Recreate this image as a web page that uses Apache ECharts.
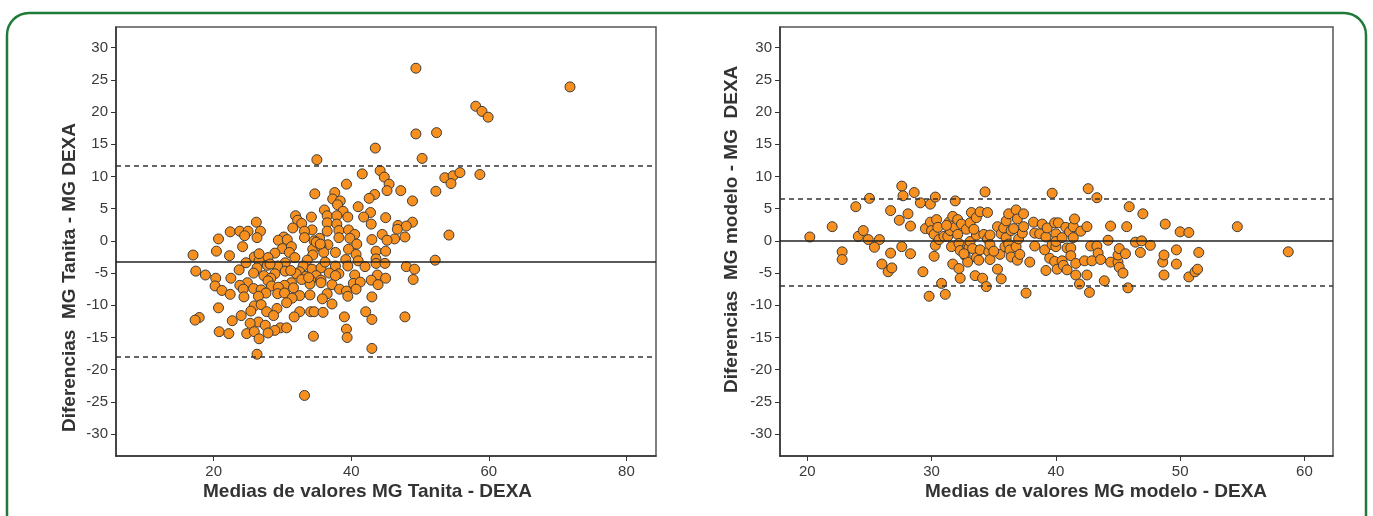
<!DOCTYPE html>
<html>
<head>
<meta charset="utf-8">
<script src="https://cdn.jsdelivr.net/npm/echarts@6/dist/echarts.min.js"></script>
<style>
  html, body { margin: 0; padding: 0; background: #fff; }
  #chart { width: 1373px; height: 516px; }
</style>
</head>
<body>
<div id="chart"></div>
<script>
// Bland-Altman: Tanita vs DEXA (media, diferencia)
const tanitaMedias = [49.4, 71.8, 58.1, 59.0, 59.9, 49.4, 52.4, 43.5, 35.0, 50.3, 44.2, 44.8, 41.6, 53.6, 54.8, 55.8, 58.7, 54.5, 45.5, 39.3,
  45.2, 47.2, 52.3, 34.7, 37.6, 43.4, 42.6, 37.3, 38.4, 48.9, 38.0, 41.0, 36.1, 38.8, 42.8, 31.9, 34.2, 36.5, 37.9, 39.5,
  41.8, 45.0, 32.2, 32.8, 36.5, 37.9, 42.9, 26.2, 48.9, 46.8, 48.0, 31.5, 46.7, 36.5, 38.2, 39.6, 34.3, 33.2, 22.4, 23.8,
  25.0, 26.8, 24.5, 26.3, 20.7, 40.5, 44.5, 47.8, 54.2, 30.2, 33.2, 35.4, 38.2, 39.8, 43.0, 46.3, 45.2, 29.4, 30.7, 34.6,
  36.6, 40.8, 24.2, 30.0, 31.3, 34.4, 35.6, 39.6, 20.4, 28.9, 31.0, 34.4, 36.0, 37.7, 40.7, 43.6, 45.0, 17.0, 22.3, 25.9,
  27.9, 31.8, 33.6, 39.2, 41.0, 43.6, 52.2, 24.7, 26.6, 30.4, 43.6, 44.9, 27.8, 29.3, 33.0, 37.7, 39.5, 42.0, 48.0, 26.3,
  23.7, 34.3, 17.4, 30.4, 32.5, 35.6, 49.2, 25.8, 32.0, 36.8, 38.2, 40.5, 43.8, 18.8, 27.3, 28.9, 33.4, 34.9, 37.7, 28.3,
  22.5, 20.3, 45.0, 42.9, 49.0, 32.8, 34.1, 35.6, 27.9, 24.9, 31.3, 35.6, 40.3, 41.3, 43.9, 37.2, 23.8, 30.3, 28.4, 34.0,
  20.2, 24.3, 25.8, 29.4, 31.6, 38.3, 39.3, 40.7, 21.2, 26.9, 27.6, 29.3, 30.3, 22.4, 36.5, 24.4, 26.5, 32.5, 34.0, 39.5,
  43.0, 35.8, 31.4, 30.6, 37.2, 25.9, 26.9, 20.7, 29.2, 25.4, 27.7, 34.1, 34.6, 35.9, 42.1, 32.5, 28.7, 24.0, 31.7, 39.0,
  47.8, 17.9, 17.3, 22.7, 43.0, 26.5, 25.3, 27.5, 29.7, 30.6, 39.3, 28.9, 20.8, 22.2, 24.8, 25.9, 27.9, 34.5, 39.4, 26.6,
  43.0, 26.3, 33.2, 34.9, 35.5, 31.2, 26.6, 28.2, 33.8, 36.2];
const tanitaDifs = [26.8, 23.9, 20.9, 20.1, 19.2, 16.6, 16.8, 14.4, 12.6, 12.8, 10.9, 9.9, 10.4, 9.8, 10.1, 10.6, 10.3, 8.9, 8.8, 8.8,
  7.8, 7.8, 7.7, 7.3, 7.5, 7.2, 6.6, 6.5, 6.2, 6.2, 5.6, 5.3, 4.8, 4.6, 4.4, 3.9, 3.7, 3.9, 3.9, 3.7,
  3.7, 3.6, 3.2, 2.7, 2.8, 2.6, 2.6, 2.9, 2.9, 2.4, 2.3, 2.0, 1.8, 1.5, 1.6, 1.7, 1.7, 1.5, 1.4, 1.5,
  1.5, 1.5, 0.8, 0.5, 0.3, 1.0, 1.0, 0.6, 0.9, 0.6, 0.5, 0.4, 0.5, 0.4, 0.2, 0.3, 0.1, 0.1, 0.2, 0.0,
  -0.6, -0.5, -0.9, -1.2, -0.9, -1.3, -0.9, -1.3, -1.6, -1.9, -1.8, -2.2, -1.8, -1.8, -2.1, -1.6, -1.6, -2.2, -2.3, -2.5,
  -2.6, -2.6, -3.0, -2.9, -3.1, -2.8, -3.0, -3.4, -3.1, -3.4, -3.5, -3.5, -3.8, -3.9, -3.9, -3.9, -3.9, -4.0, -4.0, -4.2,
  -4.5, -4.4, -4.7, -4.7, -4.8, -4.2, -4.4, -5.0, -5.1, -5.0, -5.1, -5.3, -5.3, -5.3, -5.4, -5.1, -5.5, -5.4, -5.4, -5.8,
  -5.8, -5.8, -5.8, -6.1, -6.0, -6.0, -6.1, -6.1, -6.2, -6.5, -6.5, -6.5, -6.6, -6.4, -6.8, -6.8, -6.9, -6.9, -7.0, -6.7,
  -7.0, -7.5, -7.4, -7.2, -7.3, -7.5, -7.8, -7.5, -7.7, -7.6, -8.1, -8.2, -8.1, -8.3, -8.2, -8.7, -8.6, -8.5, -8.4, -8.6,
  -8.7, -9.0, -8.9, -9.6, -9.8, -10.1, -9.9, -10.4, -10.5, -10.9, -11.0, -11.0, -11.0, -11.1, -11.0, -11.0, -11.6, -11.6, -11.8, -11.8,
  -11.8, -11.9, -12.3, -12.4, -12.2, -12.6, -12.8, -13.1, -13.5, -13.5, -13.7, -13.9, -14.1, -14.4, -14.4, -14.1, -14.3, -14.8, -15.0, -15.2,
  -16.7, -17.6, -24.0, -0.2, -0.5, -4.6, -2.0, -3.6, -5.7, -3.3];
const tanitaLimites = [11.6, -3.3, -18.0];

// Bland-Altman: modelo vs DEXA
const modeloMedias = [20.2, 22.0, 22.8, 22.8, 23.9, 25.0, 24.1, 24.5, 24.9, 25.8, 25.4, 26.0, 26.5, 26.8, 26.7, 26.7, 27.4, 27.6, 27.7, 27.6,
  28.1, 28.3, 28.3, 28.6, 29.1, 29.3, 29.5, 29.8, 29.9, 29.9, 30.0, 30.3, 30.4, 30.2, 30.3, 30.2, 30.5, 30.6, 30.8, 31.1,
  31.0, 31.3, 31.4, 31.5, 31.7, 31.6, 31.7, 31.9, 31.9, 32.1, 32.1, 32.2, 32.3, 32.2, 32.3, 32.4, 32.7, 32.8, 32.9, 32.9,
  33.0, 33.1, 33.1, 33.2, 33.3, 33.5, 33.6, 33.6, 33.6, 33.8, 33.9, 33.9, 34.1, 34.2, 34.3, 34.4, 34.5, 34.5, 34.6, 34.7,
  34.7, 34.7, 35.3, 35.3, 35.5, 35.6, 35.6, 35.8, 35.9, 36.0, 36.0, 36.2, 36.2, 36.3, 36.4, 36.4, 36.8, 36.8, 36.9, 36.9,
  37.0, 37.1, 37.3, 37.4, 37.4, 37.6, 37.9, 38.2, 38.3, 38.3, 38.7, 38.9, 39.1, 39.2, 39.2, 39.3, 39.5, 39.7, 39.7, 39.9,
  39.9, 40.0, 40.0, 40.0, 40.1, 40.2, 40.5, 40.5, 40.6, 40.8, 40.9, 40.9, 41.1, 41.2, 41.2, 41.4, 41.4, 41.5, 41.6, 41.6,
  41.9, 42.0, 42.3, 42.5, 42.5, 42.6, 42.7, 42.8, 42.9, 43.3, 43.3, 43.4, 43.6, 43.9, 44.2, 44.4, 44.4, 45.0, 45.0, 45.1,
  45.1, 45.4, 45.6, 45.7, 45.8, 45.9, 46.4, 46.8, 46.9, 47.0, 47.6, 48.6, 48.7, 48.7, 48.8, 49.7, 49.7, 50.0, 50.7, 50.7,
  51.2, 51.4, 51.5, 54.6, 58.7, 31.2, 33.4, 35.0, 36.6, 32.6];
const modeloDifs = [0.6, 2.2, -1.7, -2.9, 5.3, 6.6, 0.7, 1.6, 0.2, 0.2, -1.0, -3.6, -4.8, -4.2, -1.9, 4.7, 3.2, 8.5, 7.0, -0.9,
  4.2, 2.3, -2.0, 7.5, 5.9, -4.8, 1.9, -8.6, 5.7, 2.9, 1.6, 6.8, 3.3, 1.0, -0.7, -2.4, 2.1, 0.2, -6.6, -8.3,
  0.7, 0.7, 2.9, 1.6, 3.8, -0.9, -3.6, 6.2, 2.1, 3.3, 1.0, -0.4, -1.5, -4.3, -5.8, 2.6, -2.3, 1.8, -0.9, -3.3,
  -1.1, 2.8, -0.1, 4.4, -1.2, -5.4, 3.6, 0.9, -2.6, -3.0, 4.5, -1.4, -5.8, 1.0, 7.6, -7.1, 4.4, 0.3, -1.7, 0.9,
  -0.6, -2.9, 2.2, -4.4, -2.1, 1.1, -5.9, 2.0, -0.9, 3.1, 0.5, 4.2, -0.5, -1.4, 1.6, -2.5, -0.9, 4.8, 3.4, -3.0,
  0.3, -2.1, 1.2, 4.2, 2.2, -8.1, -3.3, 2.9, -0.8, 1.2, 1.1, 2.6, -1.4, -4.6, 0.6, 2.0, -2.7, 7.4, -0.6, 2.8,
  -3.2, -0.9, 1.1, -0.1, -4.4, 2.8, -3.1, 0.5, -3.8, 2.1, -1.1, -4.5, 1.4, -1.1, -2.3, 0.5, 2.2, 3.4, -3.5, -5.3,
  -6.7, 1.5, -3.1, 2.2, -5.3, 8.1, -8.0, -0.8, -3.1, -0.8, 6.7, -1.9, -2.9, -6.2, 0.1, 2.3, -3.3, -3.3, -2.2, -1.2,
  -4.1, -5.0, -2.0, 2.2, -7.3, 5.3, -0.2, -1.8, 0.0, 4.2, -0.7, -3.3, -5.3, -2.2, 2.6, -3.6, -1.4, 1.4, 1.3, -5.6,
  -4.8, -4.4, -1.8, 2.2, -1.7, 2.4, 1.8, -1.6, 1.9, -2.0];
const modeloLimites = [6.6, 0, -6.9];

const yTicks = [-30, -25, -20, -15, -10, -5, 0, 5, 10, 15, 20, 25, 30];
const tanitaXTicks = [20, 40, 60, 80];
const modeloXTicks = [20, 30, 40, 50, 60];

function zip(xs, ys) {
  return xs.map((x, i) => [x, ys[i]]);
}

const labelFont = {
  color: '#3a3a3a',
  fontFamily: "'Liberation Sans Narrow', 'Arial Narrow', sans-serif",
  fontSize: 15
};

function xAxisCfg(idx, min, max, ticks) {
  return {
    gridIndex: idx, type: 'value', min: min, max: max,
    splitLine: { show: false },
    axisLine: { onZero: false, lineStyle: { color: '#333', width: 1.5 } },
    axisTick: { show: true, length: 5, customValues: ticks, lineStyle: { color: '#333' } },
    axisLabel: Object.assign({ customValues: ticks, margin: 8 }, labelFont)
  };
}

function yAxisCfg(idx) {
  return {
    gridIndex: idx, type: 'value', min: -33.4, max: 33.2,
    splitLine: { show: false },
    axisLine: { show: true, onZero: false, lineStyle: { color: '#333', width: 1.5 } },
    axisTick: { show: true, length: 5, customValues: yTicks, lineStyle: { color: '#333' } },
    axisLabel: Object.assign({ customValues: yTicks, margin: 8 }, labelFont)
  };
}

function seriesCfg(idx, data, limites) {
  return {
    type: 'scatter',
    xAxisIndex: idx, yAxisIndex: idx,
    data: data,
    symbolSize: 10,
    itemStyle: { color: '#f7901e', borderColor: '#3a3a3a', borderWidth: 1, opacity: 1 },
    markLine: {
      silent: true,
      symbol: 'none',
      label: { show: false },
      data: [
        { yAxis: limites[0], lineStyle: { type: [5, 4], color: '#333', width: 1.5 } },
        { yAxis: limites[1], lineStyle: { type: 'solid', color: '#222', width: 1.5 } },
        { yAxis: limites[2], lineStyle: { type: [5, 4], color: '#333', width: 1.5 } }
      ]
    }
  };
}

const titleStyle = {
  fill: '#333',
  fontFamily: "'Liberation Sans', Arial, sans-serif",
  fontWeight: 'bold',
  fontSize: 19
};

const option = {
  animation: false,
  grid: [
    { left: 116, top: 27, width: 540, height: 429, show: true, borderColor: '#555', borderWidth: 1.5 },
    { left: 780, top: 27, width: 553, height: 429, show: true, borderColor: '#555', borderWidth: 1.5 }
  ],
  xAxis: [
    xAxisCfg(0, 5.8, 84.3, tanitaXTicks),
    xAxisCfg(1, 17.8, 62.3, modeloXTicks)
  ],
  yAxis: [yAxisCfg(0), yAxisCfg(1)],
  series: [
    seriesCfg(0, zip(tanitaMedias, tanitaDifs), tanitaLimites),
    seriesCfg(1, zip(modeloMedias, modeloDifs), modeloLimites)
  ],
  graphic: [
    {
      type: 'rect', silent: true, z: -1,
      shape: { x: 7, y: 13, width: 1359, height: 525, r: 22 },
      style: { fill: 'none', stroke: '#1f7a3a', lineWidth: 2.5 }
    },
    {
      type: 'text', left: 203, top: 482,
      style: Object.assign({ text: 'Medias de valores MG Tanita - DEXA' }, titleStyle)
    },
    {
      type: 'text', left: 925, top: 482,
      style: Object.assign({ text: 'Medias de valores MG modelo - DEXA' }, titleStyle)
    },
    {
      type: 'text', x: 60, y: 432, rotation: Math.PI / 2,
      style: Object.assign({ text: 'Diferencias  MG Tanita - MG DEXA' }, titleStyle)
    },
    {
      type: 'text', x: 722, y: 393, rotation: Math.PI / 2,
      style: Object.assign({ text: 'Diferencias  MG modelo - MG  DEXA' }, titleStyle)
    }
  ]
};

const myChart = echarts.init(document.getElementById('chart'));
myChart.setOption(option);
</script>
</body>
</html>
